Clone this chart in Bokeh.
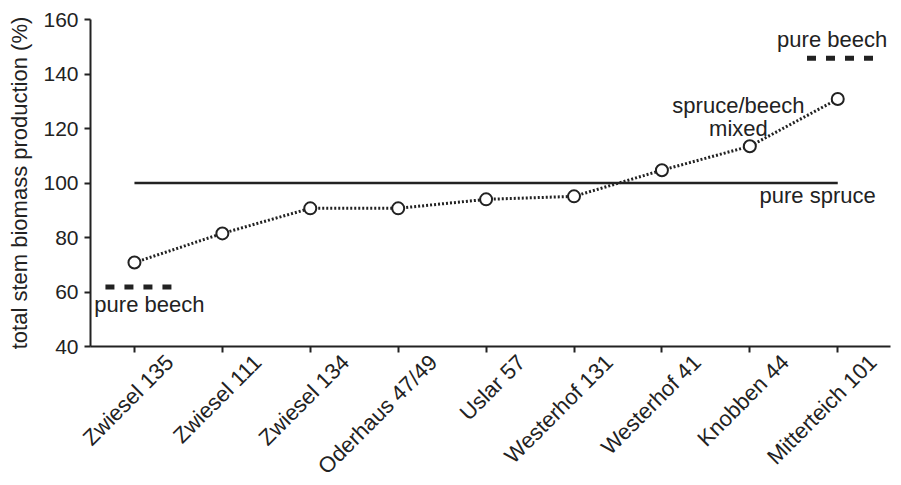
import math
from bokeh.plotting import figure
from bokeh.models import FixedTicker, Label, LinearAxis, Range1d
from bokeh.embed import file_html
from bokeh.resources import INLINE

# ---- data ----
sites = ["Zwiesel 135", "Zwiesel 111", "Zwiesel 134", "Oderhaus 47/49", "Uslar 57",
         "Westerhof 131", "Westerhof 41", "Knobben 44", "Mitterteich 101"]
production = [70.8, 81.5, 90.7, 90.7, 94.0, 95.1, 104.7, 113.5, 130.8]
pure_spruce = 100
pure_beech_low = 61.8
pure_beech_high = 145.8
y_ticks = [40, 60, 80, 100, 120, 140, 160]

FONT = "Liberation Sans"
INK = "#222222"
TICK_FS = "21px"
FS = "22px"
NAME_FS = "22px"

xs = list(range(len(sites)))
X0, X1 = -0.5, 8.6
SHIFT = 0.40  # names drawn a little to the right of their ticks, as in the reference

p = figure(frame_width=800, frame_height=327,
           min_border_left=90, min_border_right=5, min_border_top=19, min_border_bottom=4,
           x_range=Range1d(X0, X1), y_range=Range1d(40, 160),
           output_backend="svg", toolbar_location=None)
p.outline_line_color = None
p.xgrid.visible = False
p.ygrid.visible = False
p.background_fill_color = "white"
p.border_fill_color = "white"

# y axis
p.yaxis.ticker = FixedTicker(ticks=y_ticks)
p.yaxis.axis_label = "total stem biomass production (%)"
p.yaxis.axis_label_text_font = FONT
p.yaxis.axis_label_text_font_size = FS
p.yaxis.axis_label_text_font_style = "normal"
p.yaxis.axis_label_text_color = INK
p.yaxis.axis_label_standoff = 8
p.yaxis.major_label_text_font = FONT
p.yaxis.major_label_text_font_size = TICK_FS
p.yaxis.major_label_text_color = INK
p.yaxis.major_label_standoff = 6

# x axis: line and ticks only
p.xaxis.ticker = FixedTicker(ticks=xs)
p.xaxis.major_label_overrides = {i: "" for i in xs}
p.xaxis.major_label_standoff = 0

for ax in (p.xaxis[0], p.yaxis[0]):
    ax.axis_line_color = INK
    ax.axis_line_width = 2
    ax.major_tick_line_color = INK
    ax.major_tick_line_width = 2
    ax.major_tick_out = 6
    ax.major_tick_in = 0
    ax.minor_tick_line_color = None

# second axis carrying the rotated site names
p.extra_x_ranges = {"names": Range1d(X0 - SHIFT, X1 - SHIFT)}
names_axis = LinearAxis(x_range_name="names", ticker=FixedTicker(ticks=xs),
                        major_label_overrides={i: s for i, s in zip(xs, sites)},
                        major_label_orientation=math.pi / 4,
                        major_label_text_font=FONT, major_label_text_font_size=NAME_FS,
                        major_label_text_color=INK, major_label_standoff=6,
                        axis_line_color=None, major_tick_line_color=None,
                        minor_tick_line_color=None, major_tick_out=0, major_tick_in=0)
p.add_layout(names_axis, "below")

# reference lines
p.line(x=[xs[0], xs[-1]], y=[pure_spruce, pure_spruce], line_color=INK, line_width=2.5)
p.line(x=[xs[0] - 0.33, xs[0] + 0.43], y=[pure_beech_low] * 2, line_color=INK,
       line_width=5, line_dash="9 10", line_cap="butt")
p.line(x=[xs[-1] - 0.35, xs[-1] + 0.41], y=[pure_beech_high] * 2, line_color=INK,
       line_width=5, line_dash="9 10", line_cap="butt")

# series
p.line(x=xs, y=production, line_color=INK, line_width=3, line_dash="2 2")
p.scatter(x=xs, y=production, size=12, fill_color="white", line_color=INK, line_width=2)

# annotations
def lab(x, y, text, align="left"):
    p.add_layout(Label(x=x, y=y, text=text, text_font=FONT, text_font_size=FS,
                       text_color=INK, text_align=align, text_baseline="middle"))

lab(xs[0] - 0.456, 55.4, "pure beech")
lab(xs[-1] - 0.69, 152.5, "pure beech")
lab(xs[-1] - 0.89, 95.5, "pure spruce")
lab(xs[-1] - 1.13, 128.4, "spruce/beech", "center")
lab(xs[-1] - 1.13, 120.0, "mixed", "center")

open("out.html", "w").write(file_html(p, INLINE))
